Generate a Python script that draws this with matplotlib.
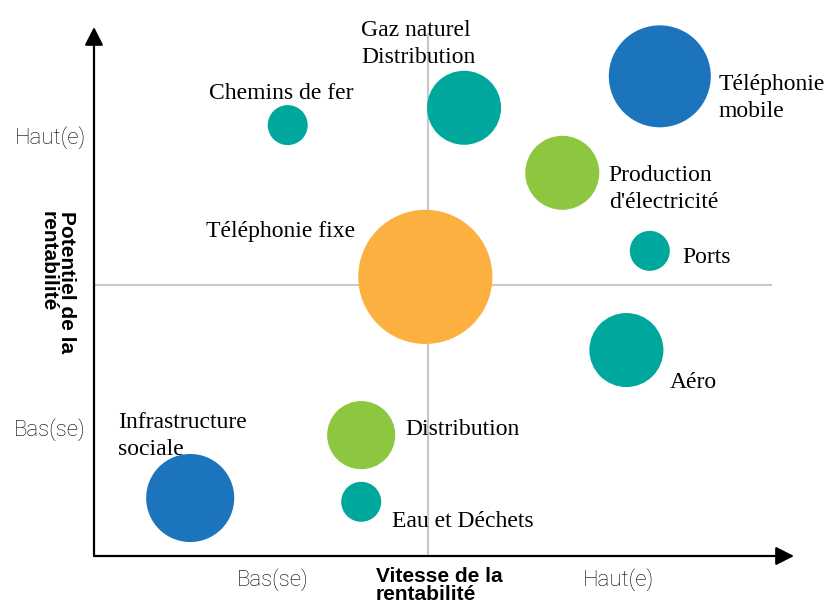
import matplotlib
matplotlib.use("Agg")
import matplotlib.pyplot as plt

# ---- data ----
names = ["Chemins de fer", "Gaz naturel\nDistribution", "Téléphonie\nmobile",
         "Production\nd'électricité", "Ports", "Téléphonie fixe", "Aéro",
         "Distribution", "Infrastructure\nsociale", "Eau et Déchets"]
speed = [2.90, 5.54, 8.47, 7.01, 8.32, 4.96, 7.97, 4.00, 1.44, 4.00]
potential = [7.95, 8.27, 8.85, 7.07, 5.63, 5.15, 3.80, 2.23, 1.07, 1.00]
size_value = [4.0, 13.7, 26.0, 13.7, 4.0, 45.0, 13.7, 11.6, 19.4, 4.0]
group = ["teal", "teal", "blue", "green", "teal", "orange", "teal", "green", "blue", "teal"]
x_tick_labels = ["Bas(se)", "Haut(e)"]
y_tick_labels = ["Bas(se)", "Haut(e)"]
x_title = "Vitesse de la\nrentabilité"
y_title = "Potentiel de la\nrentabilité"

# ---- style ----
palette = {"teal": "#00A79D", "blue": "#1C75BC", "green": "#8DC63F", "orange": "#FBB040"}
# label offsets (pixels, to last line baseline) and alignment
label_style = [(-6.5, 26, "center"), (-103, 45, "left"), (59, -40.5, "left"),
               (46.5, -35, "left"), (33, -12, "left"), (-70, 40, "right"),
               (43.5, -38, "left"), (44, 0, "left"), (-72, 43, "left"),
               (30.5, -25, "left")]

W, H = 826, 606
fig = plt.figure(figsize=(W / 100, H / 100), dpi=100)
ax = fig.add_axes([94 / W, (H - 556) / H, (772 - 94) / W, (556 - 33) / H])
xmax, ymax = (772 - 94) / 66.8, (556 - 33) / 54.2
ax.set_xlim(0, xmax)
ax.set_ylim(0, ymax)
for s in ax.spines.values():
    s.set_visible(False)

# quadrant lines
ax.axvline(5, color="#C8C8C8", lw=1.5, zorder=0)
ax.axhline(5, color="#C8C8C8", lw=1.5, zorder=0)

# axis arrows
arrow_kw = dict(arrowstyle="-|>,head_length=0.55,head_width=0.28", color="black",
                lw=1.6, shrinkA=0, shrinkB=0, mutation_scale=20)
ax.annotate("", xy=(xmax + 22 / 66.8, 0), xytext=(0, 0), arrowprops=arrow_kw,
            annotation_clip=False)
ax.annotate("", xy=(0, ymax + 6 / 54.2), xytext=(0, 0), arrowprops=arrow_kw,
            annotation_clip=False)

# bubbles
px2pt = 0.72
sizes = [(2 * (v * 100) ** 0.5 * px2pt) ** 2 for v in size_value]
ax.scatter(speed, potential, s=sizes, c=[palette[g] for g in group],
           edgecolors="none", zorder=3, clip_on=False)

for n, x, y, (dx, dy, ha) in zip(names, speed, potential, label_style):
    ax.annotate(n, (x, y), xytext=(dx, dy), textcoords="offset pixels",
                ha=ha, va="baseline", fontsize=17, family="Liberation Serif",
                color="#000000", linespacing=1.38, zorder=4)

ax.set_xticks([2.68, 7.85], x_tick_labels)
ax.set_yticks([2.38, 7.77], y_tick_labels)
ax.tick_params(length=0, labelsize=16, labelcolor="#000000")
ax.tick_params(axis="x", pad=9)
ax.tick_params(axis="y", pad=6)
for lab in ax.get_xticklabels() + ax.get_yticklabels():
    lab.set_family("Roboto")
    lab.set_fontweight("light")

fig.text(376 / W, 1 - 567 / H, x_title, ha="left", va="top", fontsize=15,
         fontweight="bold", family="Liberation Sans", linespacing=0.95)
fig.text(76 / W, 1 - 211 / H, y_title, ha="right", va="top", rotation=270,
         fontsize=15, fontweight="bold", family="Liberation Sans",
         linespacing=0.95, multialignment="left", rotation_mode="default")

fig.savefig("out.png", dpi=100)
